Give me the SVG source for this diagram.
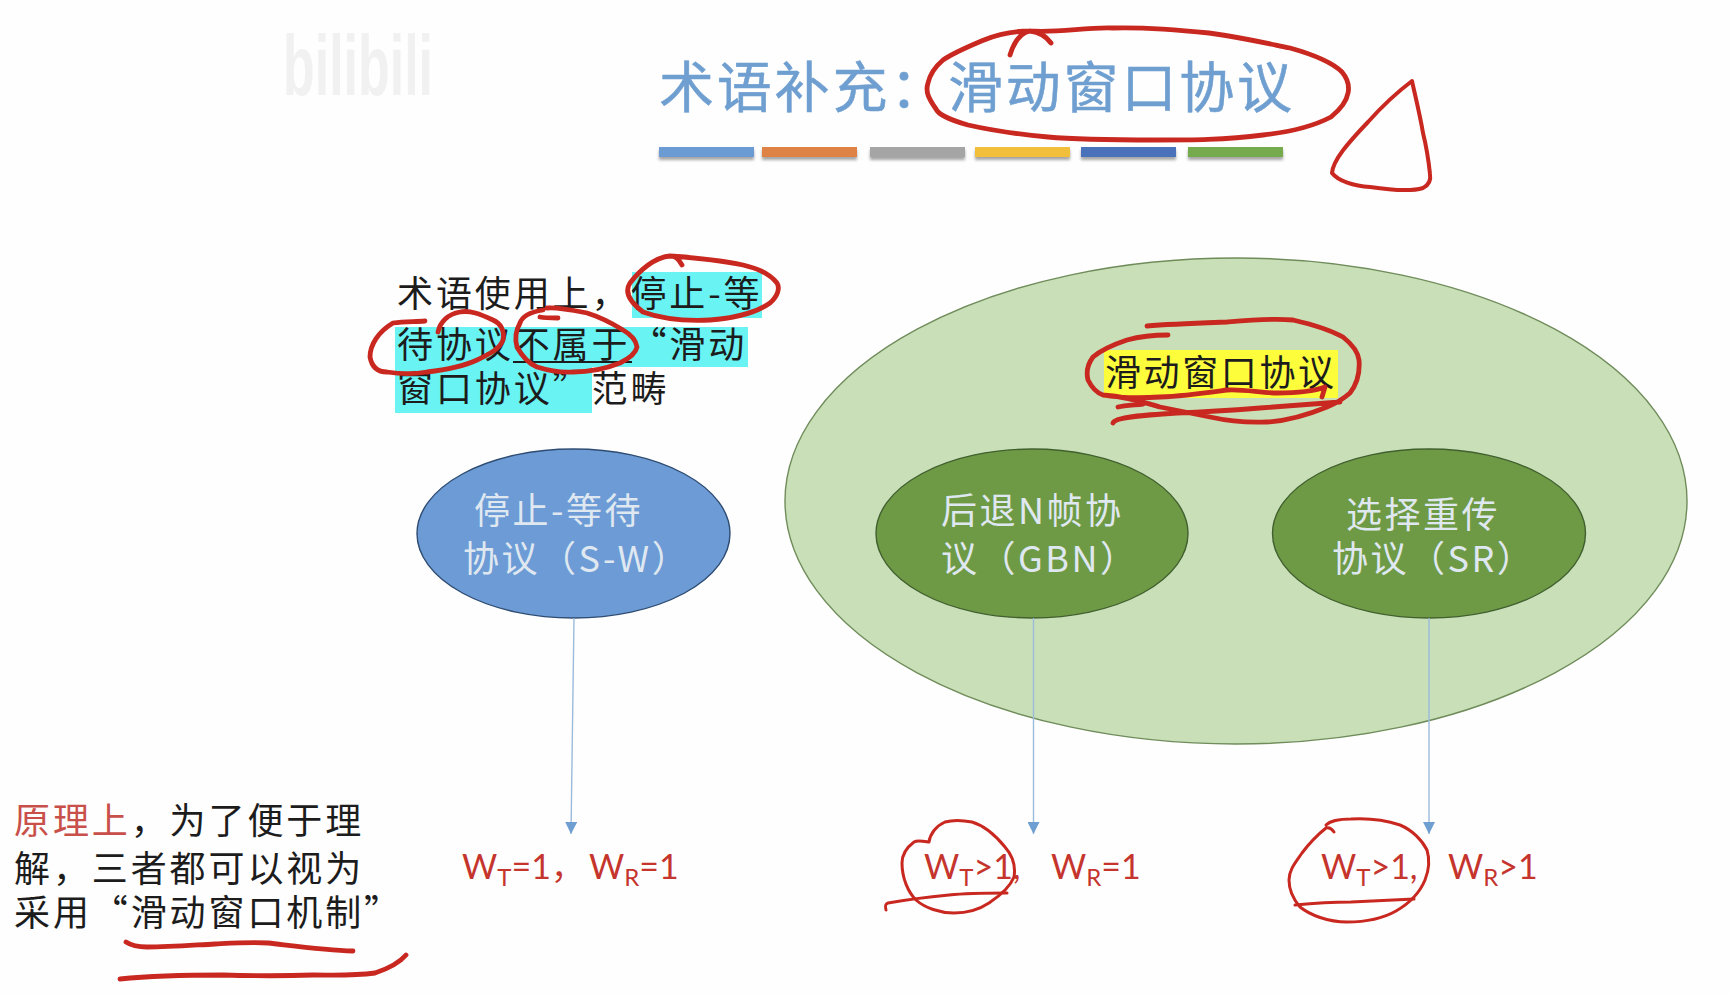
<svg xmlns="http://www.w3.org/2000/svg" width="1730" height="994" viewBox="0 0 1730 994">
<style>
text{font-family:"Noto Sans CJK SC","Noto Sans",sans-serif}
.title{font-size:55px;fill:#6f9fd0;letter-spacing:2.8px;stroke:#6f9fd0;stroke-width:.5px}
.body{font-size:36px;fill:#1c1c1c;letter-spacing:2.9px}
.node{font-size:36px;fill:#dfe8f0;letter-spacing:2.5px}
.w{font-family:Lato,"Noto Sans CJK SC",sans-serif;font-size:34px;fill:#c5352d}
.sub{font-size:24px}
.ink{fill:none;stroke:#c8281f;stroke-width:4.8;stroke-linecap:round;stroke-linejoin:round}
.thin{stroke-width:3}
.conn{stroke:#9bbbdc;stroke-width:1.4;fill:none;marker-end:url(#arr)}
.ell-g{fill:#6f9a45;stroke:#41602f;stroke-width:1.4}
</style>
<defs>
<marker id="arr" markerUnits="userSpaceOnUse" markerWidth="13" markerHeight="12" refX="12" refY="6" orient="auto"><path d="M0 0L12 6L0 12Z" fill="#6f9fd0"/></marker>
<filter id="sh" x="-5%" y="-30%" width="110%" height="190%"><feDropShadow dx="0" dy="3" stdDeviation="1.6" flood-color="#000" flood-opacity=".35"/></filter>
</defs>
<rect width="1730" height="994" fill="#fefefe"/>
<text x="283" y="95" font-size="86" font-weight="700" textLength="150" lengthAdjust="spacingAndGlyphs" fill="#f1f1f1" style="font-family:'Liberation Sans',sans-serif">bilibili</text>

<g id="title">
<text class="title" x="659" y="107">术语补充：滑动窗口协议</text>
<g filter="url(#sh)">
<rect x="659" y="147" width="95" height="10" fill="#6a9bd3"/>
<rect x="762" y="147" width="95" height="10" fill="#de8245"/>
<rect x="870" y="147" width="95" height="10" fill="#a5a5a5"/>
<rect x="975" y="147" width="95" height="10" fill="#f2bf3c"/>
<rect x="1081" y="147" width="95" height="10" fill="#4a72ba"/>
<rect x="1188" y="147" width="95" height="10" fill="#74aa4d"/>
</g>
</g>

<g id="note-top">
<rect x="632" y="272" width="130" height="46" fill="#69f3f3"/>
<rect x="395" y="327" width="353" height="40" fill="#69f3f3"/>
<rect x="395" y="367" width="197" height="46" fill="#69f3f3"/>
<text class="body"><tspan x="397" y="307">术语使用上，停止-等</tspan><tspan x="397" y="358">待协议不属于“滑动</tspan><tspan x="397" y="402">窗口协议”范畴</tspan></text>
<line x1="513" y1="362" x2="632" y2="362" stroke="#1c1c1c" stroke-width="2.2"/>
</g>

<g id="node-window">
<ellipse cx="1236" cy="501" rx="451" ry="243" fill="#c9dfb8" stroke="#6f8c5a" stroke-width="1.4"/>
<rect x="1104" y="350" width="234" height="48" fill="#fdfd3c"/>
<text class="body" x="1105" y="386" style="letter-spacing:2.6px">滑动窗口协议</text>
</g>

<g id="node-sw">
<ellipse cx="573.5" cy="533.5" rx="156.5" ry="84.5" fill="#6d9bd6" stroke="#2e4c72" stroke-width="1.4"/>
<text class="node"><tspan x="474" y="524">停止-等待</tspan><tspan x="463" y="572">协议（S-W）</tspan></text>
</g>
<g id="node-gbn">
<ellipse class="ell-g" cx="1032" cy="533.5" rx="156" ry="84.5"/>
<text class="node"><tspan x="941" y="524">后退N帧协</tspan><tspan x="941" y="572">议（GBN）</tspan></text>
</g>
<g id="node-sr">
<ellipse class="ell-g" cx="1429" cy="533.5" rx="156.5" ry="84.5"/>
<text class="node"><tspan x="1346" y="528">选择重传</tspan><tspan x="1332" y="572">协议（SR）</tspan></text>
</g>

<g id="connectors">
<line class="conn" x1="574" y1="618" x2="571" y2="834"/>
<line class="conn" x1="1033.5" y1="618" x2="1033.5" y2="834"/>
<line class="conn" x1="1429" y1="618" x2="1429" y2="834"/>
</g>

<g id="note-bottom">
<text class="body"><tspan x="14" y="834" fill="#c9504a">原理上</tspan><tspan>，为了便于理</tspan><tspan x="14" y="882">解，三者都可以视为</tspan><tspan x="14" y="926">采用“滑动窗口机制”</tspan></text>
</g>

<g id="label-sw"><text class="w" x="462" y="879">W<tspan class="sub" dy="7">T</tspan><tspan dy="-7">=1，</tspan></text><text class="w" x="589" y="879">W<tspan class="sub" dy="7">R</tspan><tspan dy="-7">=1</tspan></text></g>
<g id="label-gbn"><text class="w" x="924" y="879">W<tspan class="sub" dy="7">T</tspan><tspan dy="-7">&gt;1,</tspan></text><text class="w" x="1051" y="879">W<tspan class="sub" dy="7">R</tspan><tspan dy="-7">=1</tspan></text></g>
<g id="label-sr"><text class="w" x="1321" y="879">W<tspan class="sub" dy="7">T</tspan><tspan dy="-7">&gt;1,</tspan></text><text class="w" x="1448" y="879">W<tspan class="sub" dy="7">R</tspan><tspan dy="-7">&gt;1</tspan></text></g>

<g id="annotations">
<path class="ink" d="M1010 55C1014 42 1020 33 1030 31C1038 32 1046 36 1051 43M1030 31C1060 33 1085 27 1113 28C1150 27 1180 30 1209 33C1245 38 1270 44 1290 48C1315 55 1334 64 1342 72C1352 84 1352 100 1331 117C1312 127 1290 132 1263 135C1225 140 1190 140 1156 140C1115 140 1080 140 1048 137C1015 134 990 130 968 125C950 120 938 114 936 109C929 99 925 92 928 83C930 74 936 66 943 60C955 52 970 46 984 40C998 34 1012 31 1030 31"/>
<path class="ink thin" stroke-width="4" style="stroke-width:4" d="M1412 81C1400 90 1385 103 1368 122C1348 143 1333 160 1332 173C1338 181 1354 186 1370 187C1390 190 1410 192 1423 188C1429 185 1431 180 1430 174C1428 155 1426 145 1423 133C1420 115 1415 95 1412 81Z"/>
<path class="ink" d="M682 265C678 258 675 256 670 256C655 257 640 270 630 283C624 292 630 302 643 312C665 320 690 321 710 320C740 318 760 310 770 303C778 296 780 288 777 283C768 272 755 268 743 265C720 260 700 258 670 256"/>
<path class="ink" d="M425 321C415 322 405 321 393 323C378 332 370 345 370 357C372 368 378 372 387 372C400 374 415 374 427 372C445 370 462 367 477 360C492 353 500 348 503 340C505 330 500 323 493 320C480 314 470 310 460 312C448 314 440 322 438 332"/>
<path class="ink" d="M558 318C552 318 545 318 540 317M543 310C530 312 522 317 520 323C515 332 515 340 517 347C523 358 530 364 537 367C550 371 560 373 573 372C590 372 605 369 620 363C630 358 636 352 637 347C636 340 630 334 623 330C610 322 600 317 587 313C572 310 558 307 547 308"/>
<path class="ink" d="M1147 326C1170 324 1200 323 1227 322C1250 320 1272 318 1293 320C1315 325 1332 331 1343 337C1353 345 1358 352 1359 360C1360 372 1357 384 1350 393C1342 400 1337 403 1327 407C1305 416 1285 421 1267 422C1245 423 1228 421 1210 417C1190 413 1175 410 1160 407C1150 404 1130 397 1103 395M1168 335C1150 335 1138 337 1127 340C1112 345 1100 351 1093 357C1087 365 1086 372 1088 380C1092 388 1097 393 1103 395C1120 398 1140 398 1160 397C1185 396 1205 393 1227 390C1245 389 1260 393 1277 393C1295 393 1312 392 1325 387L1322 397M1118 407C1125 405 1135 405 1143 404M1113 423C1115 417 1145 415 1177 413C1205 412 1235 410 1260 408C1290 406 1315 404 1340 402"/>
<path class="ink" d="M126 942C132 946 140 947 147 947C170 947 195 945 215 944C235 943 250 942 268 943C295 946 325 950 353 951"/>
<path class="ink" d="M120 979C150 976 190 975 223 975C255 976 285 976 313 975C335 975 352 976 375 973C390 968 400 962 406 955"/>
<path class="ink thin" d="M929 842C922 841 917 840 914 842C906 848 902 855 902 863C902 878 908 892 916 900C925 908 940 913 954 913C968 913 980 909 989 903C1001 895 1010 887 1014 877C1016 865 1012 855 1005 847C996 836 986 826 972 822C962 820 952 820 945 822C936 826 930 834 929 842"/>
<path class="ink thin" d="M886 910C885 906 885 904 888 903C905 900 928 897 949 895C968 893 988 893 1007 893"/>
<path class="ink thin" d="M1334 832C1332 829 1329 827 1326 828C1316 836 1308 845 1302 853C1295 863 1289 870 1289 880C1289 890 1294 900 1300 907C1310 915 1328 922 1347 922C1365 922 1382 919 1396 911C1410 903 1420 892 1425 880C1429 870 1430 860 1427 850C1422 840 1412 830 1400 825C1385 820 1368 818 1351 819C1340 819 1330 821 1326 825"/>
<path class="ink thin" d="M1295 905C1315 903 1333 902 1351 902C1372 901 1394 900 1414 899"/>
</g>
</svg>
